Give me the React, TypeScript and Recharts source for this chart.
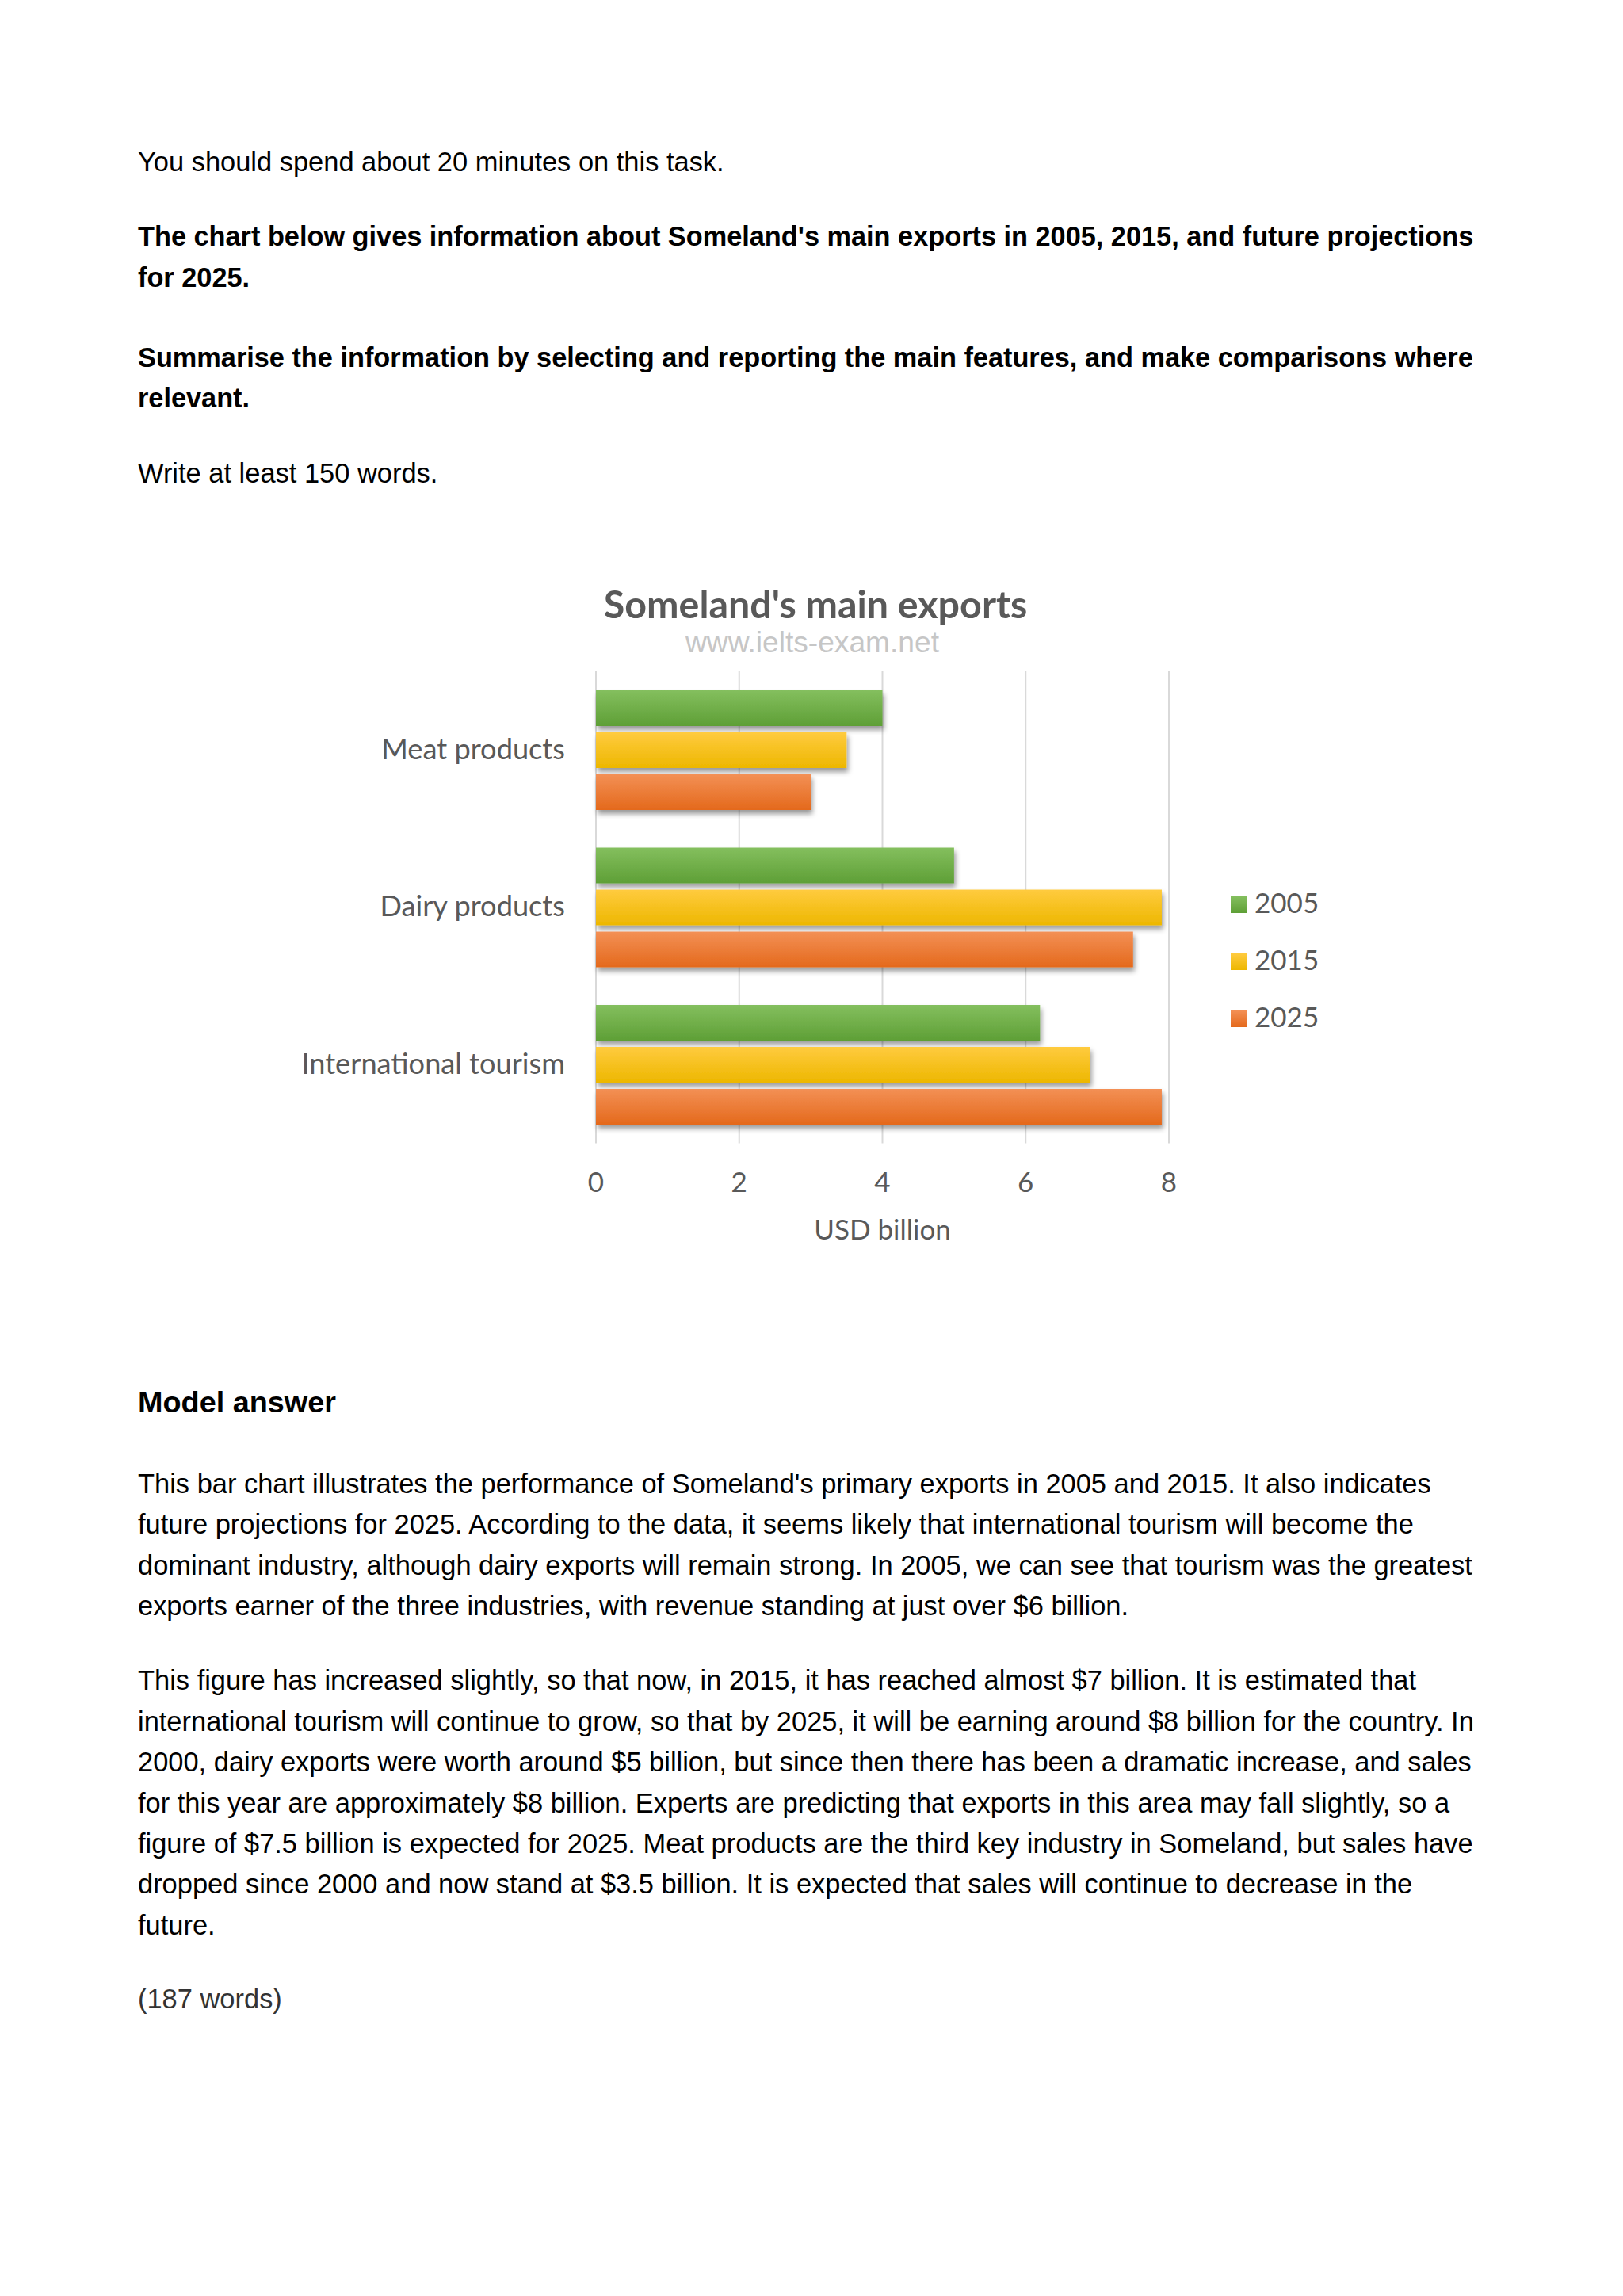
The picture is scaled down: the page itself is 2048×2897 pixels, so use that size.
import React from 'react';
import { BarChart, Bar, XAxis, YAxis, CartesianGrid, Legend } from 'recharts';

const categories = ['Meat products', 'Dairy products', 'International tourism'];
const values2005 = [4, 5, 6.2];
const values2015 = [3.5, 7.9, 6.9];
const values2025 = [3, 7.5, 7.9];
const seriesNames = ['2005', '2015', '2025'];
const xTicks = [0, 2, 4, 6, 8];

const chartTitle = "Someland's main exports";
const chartSource = 'www.ielts-exam.net';
const xAxisTitle = 'USD billion';

const data = categories.map((c, i) => ({
  category: c,
  v2005: values2005[i],
  v2015: values2015[i],
  v2025: values2025[i],
}));

const seriesKeys = ['v2005', 'v2015', 'v2025'];
const gradIds = ['g2005', 'g2015', 'g2025'];

const LABEL_FONT = 'Lato, "Open Sans", sans-serif';
const LABEL_COLOR = '#595959';

const CatTick = (props: any) => {
  const { x, y, payload } = props;
  return (
    <text x={x} y={y + 11.5} textAnchor="end" fontFamily={LABEL_FONT} fontSize={36.2} fill={LABEL_COLOR}>
      {payload.value}
    </text>
  );
};

const NumTick = (props: any) => {
  const { x, y, payload } = props;
  return (
    <text x={x} y={y + 61} textAnchor="middle" fontFamily={LABEL_FONT} fontSize={35} fill={LABEL_COLOR}>
      {payload.value}
    </text>
  );
};

const XLabel = (props: any) => {
  const vb = props.viewBox || {};
  return (
    <text x={vb.x + vb.width / 2} y={vb.y + 121} textAnchor="middle" fontFamily={LABEL_FONT} fontSize={35} fill={LABEL_COLOR}>
      {xAxisTitle}
    </text>
  );
};

const ShadowBar = (props: any) => {
  const { x, y, width, height, fill } = props;
  if (!width || width <= 0) return null;
  return <rect x={x} y={y} width={width} height={height} fill={fill} filter="url(#barShadow)" />;
};

const LegendContent = () => (
  <svg width={220} height={230} style={{ overflow: 'visible', display: 'block' }}>
    {seriesNames.map((n, i) => (
      <g key={n}>
        <rect x={0} y={52 + i * 72 - 21} width={21} height={21} fill={`url(#${gradIds[i]})`} />
        <text x={30} y={52 + i * 72} fontFamily={LABEL_FONT} fontSize={35} fill={LABEL_COLOR}>
          {n}
        </text>
      </g>
    ))}
  </svg>
);

const bodyFont = '"Liberation Sans", Arial, Helvetica, sans-serif';

const Lines = ({ top, lines, size = 34.45, lh = 51.4, bold = false, color = '#000' }: any) => (
  <div
    style={{
      position: 'absolute',
      left: 174,
      top,
      fontFamily: bodyFont,
      fontSize: size,
      lineHeight: `${lh}px`,
      fontWeight: bold ? 700 : 400,
      color,
      whiteSpace: 'nowrap',
    }}
  >
    {lines.map((l: string, i: number) => (
      <div key={i}>{l}</div>
    ))}
  </div>
);

const intro = ['You should spend about 20 minutes on this task.'];
const task1 = [
  "The chart below gives information about Someland's main exports in 2005, 2015, and future projections",
  'for 2025.',
];
const task2 = [
  'Summarise the information by selecting and reporting the main features, and make comparisons where',
  'relevant.',
];
const task3 = ['Write at least 150 words.'];
const modelHeading = ['Model answer'];
const para1 = [
  "This bar chart illustrates the performance of Someland's primary exports in 2005 and 2015. It also indicates",
  'future projections for 2025. According to the data, it seems likely that international tourism will become the',
  'dominant industry, although dairy exports will remain strong. In 2005, we can see that tourism was the greatest',
  'exports earner of the three industries, with revenue standing at just over $6 billion.',
];
const para2 = [
  'This figure has increased slightly, so that now, in 2015, it has reached almost $7 billion. It is estimated that',
  'international tourism will continue to grow, so that by 2025, it will be earning around $8 billion for the country. In',
  '2000, dairy exports were worth around $5 billion, but since then there has been a dramatic increase, and sales',
  'for this year are approximately $8 billion. Experts are predicting that exports in this area may fall slightly, so a',
  'figure of $7.5 billion is expected for 2025. Meat products are the third key industry in Someland, but sales have',
  'dropped since 2000 and now stand at $3.5 billion. It is expected that sales will continue to decrease in the',
  'future.',
];
const wordCount = ['(187 words)'];

export default function App() {
  const B = 37.6; // baseline offset inside a 51.4px line box
  return (
    <div style={{ position: 'absolute', left: 0, top: 0, width: 2048, height: 2897, background: '#fff', overflow: 'hidden' }}>
      <Lines top={216.5 - B} lines={intro} />
      <Lines top={311 - B} lines={task1} bold size={34.3} />
      <Lines top={463.5 - B} lines={task2} bold size={34.3} />
      <Lines top={609.5 - B} lines={task3} />

      <div style={{ position: 'absolute', left: 0, top: 700, width: 1800, height: 900 }}>
        <BarChart
          width={1800}
          height={900}
          data={data}
          layout="vertical"
          margin={{ top: 147, right: 325, bottom: 57.5, left: 0 }}
          barSize={45}
          barGap={8}
        >
          <defs>
            <linearGradient id="g2005" x1="0" y1="0" x2="0" y2="1">
              <stop offset="0" stopColor="#84BF5E" />
              <stop offset="1" stopColor="#5E9F36" />
            </linearGradient>
            <linearGradient id="g2015" x1="0" y1="0" x2="0" y2="1">
              <stop offset="0" stopColor="#FFCB3F" />
              <stop offset="1" stopColor="#EDB700" />
            </linearGradient>
            <linearGradient id="g2025" x1="0" y1="0" x2="0" y2="1">
              <stop offset="0" stopColor="#F39055" />
              <stop offset="1" stopColor="#E4691C" />
            </linearGradient>
            <filter id="barShadow" x="-5%" y="-30%" width="115%" height="180%">
              <feDropShadow dx="2" dy="5" stdDeviation="3" floodColor="#000" floodOpacity="0.4" />
            </filter>
          </defs>
          <text x={1029} y={80} textAnchor="middle" fontFamily={LABEL_FONT} fontWeight={700} fontSize={48.4} fill={LABEL_COLOR}>
            {chartTitle}
          </text>
          <text
            x={1025}
            y={123}
            textAnchor="middle"
            fontFamily={bodyFont}
            fontSize={37}
            fill="#c6c6c6"
            textLength={320}
            lengthAdjust="spacingAndGlyphs"
          >
            {chartSource}
          </text>
          <CartesianGrid horizontal={false} vertical stroke="#d9d9d9" strokeWidth={2} />
          <XAxis
            type="number"
            domain={[0, 8]}
            ticks={xTicks}
            axisLine={false}
            tickLine={false}
            tickSize={0}
            tickMargin={0}
            height={100}
            tick={NumTick}
            label={XLabel}
            interval={0}
          />
          <YAxis
            type="category"
            dataKey="category"
            width={752}
            axisLine={false}
            tickLine={false}
            tickSize={0}
            tickMargin={39}
            tick={CatTick}
            interval={0}
          />
          <Legend
            layout="vertical"
            align="center"
            verticalAlign="middle"
            content={LegendContent}
            wrapperStyle={{ left: 1553, top: 400, width: 220, height: 230 }}
          />
          {seriesKeys.map((k, i) => (
            <Bar
              key={k}
              dataKey={k}
              name={seriesNames[i]}
              fill={`url(#${gradIds[i]})`}
              shape={ShadowBar}
              isAnimationActive={false}
            />
          ))}
        </BarChart>
      </div>

      <Lines top={1783.6 - 39.2} lines={modelHeading} size={37.8} bold />
      <Lines top={1884.5 - B} lines={para1} />
      <Lines top={2133 - B} lines={para2} />
      <Lines top={2535 - B} lines={wordCount} color="#333" />
    </div>
  );
}
